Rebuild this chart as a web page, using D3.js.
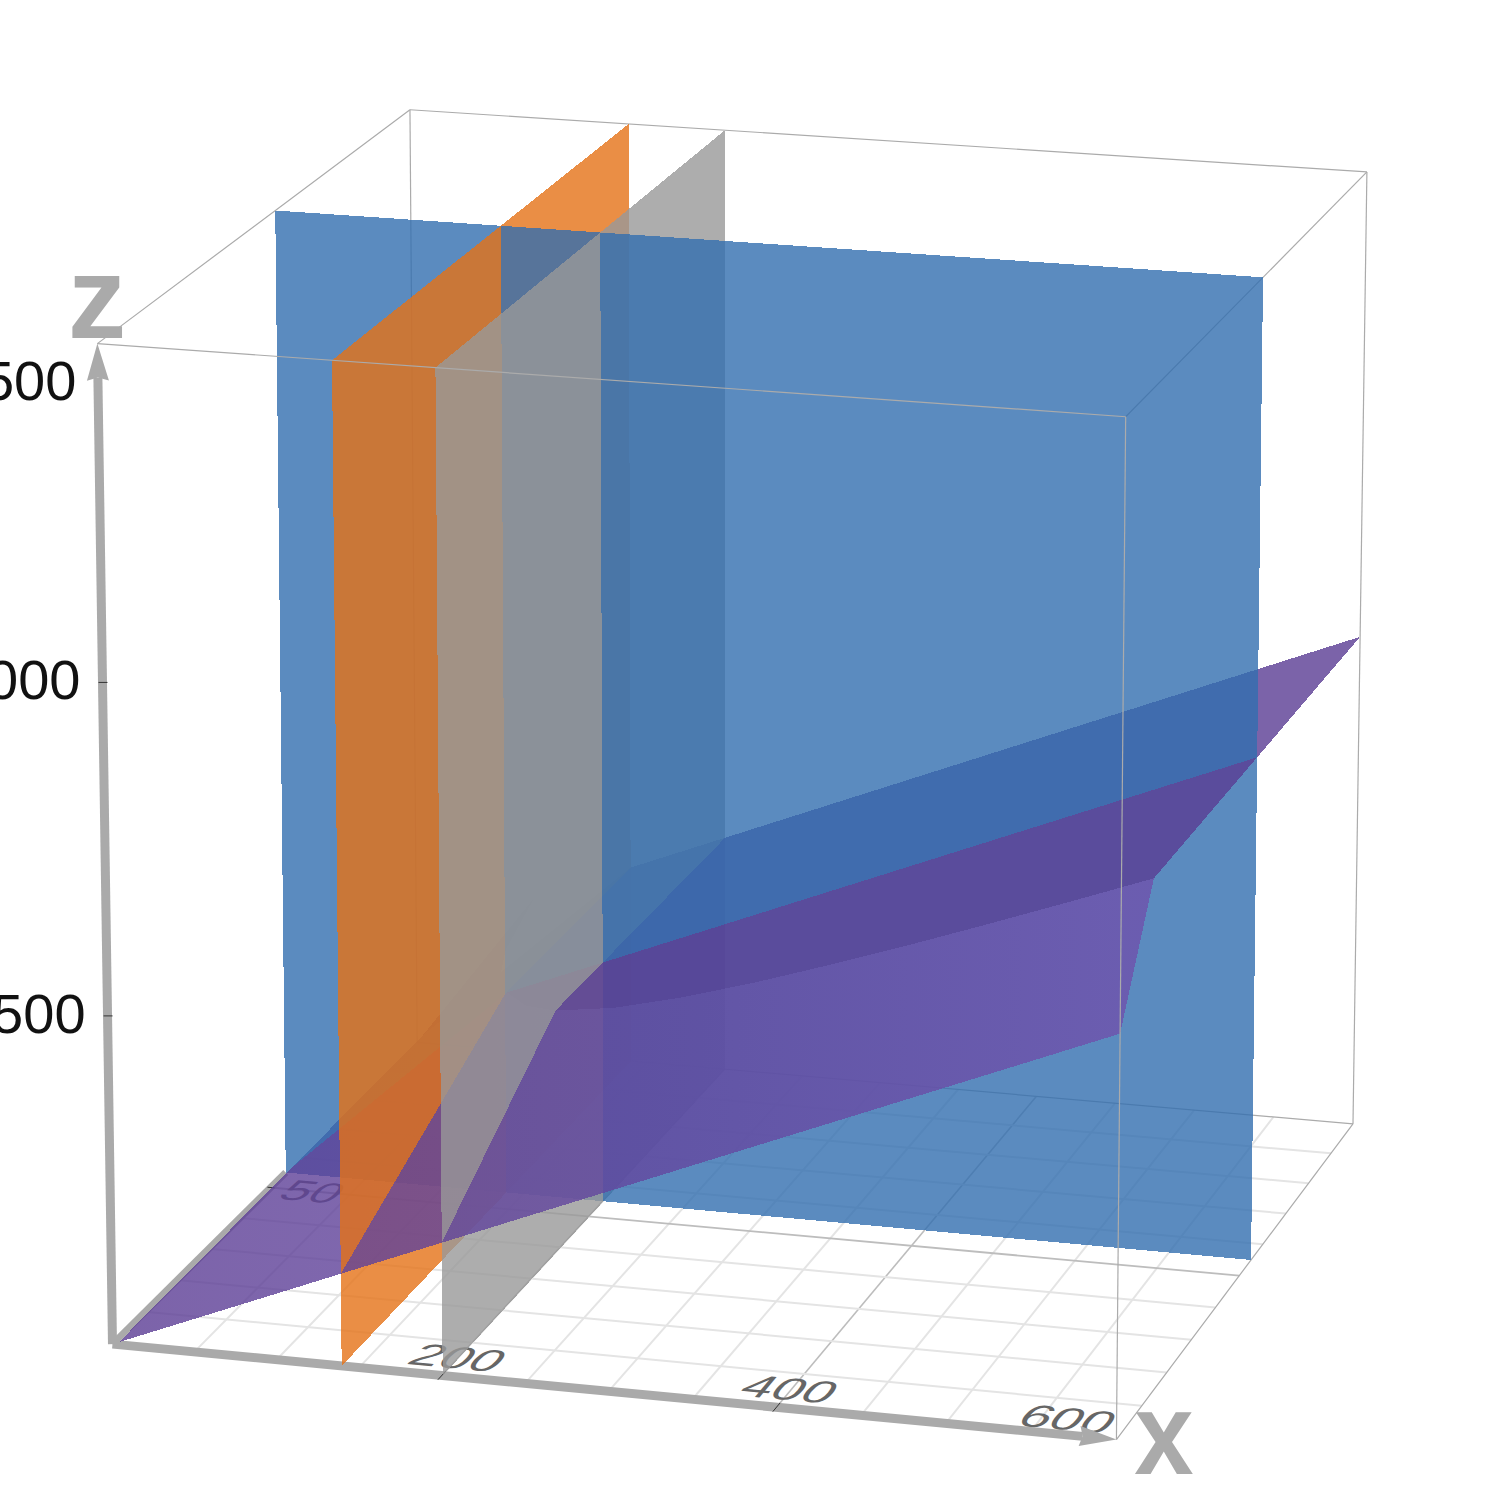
<!DOCTYPE html>
<html><head><meta charset="utf-8">
<script src="https://cdn.jsdelivr.net/npm/d3@7"></script>
<style>html,body{margin:0;background:#fff}svg{display:block}</style></head>
<body><svg id="c" width="1500" height="1500" viewBox="0 0 1500 1500"></svg>
<script>
// ---- data ----
const xDomain=[0,600], yDomain=[0,100], zDomain=[0,1500];
const xTicks=[200,400], xLabels=[200,400,600], yLabels=[50], zLabels=[500,1000,1500];
const xMinor=[50,100,150,200,250,300,350,400,450,500,550];
const yMinor=[10,20,30,40,50,60,70,80,90];
const xMajor=[200,400], yMajor=[50];
const planeOrangeX=139.5, planeGrayX=200.5, planeBlueY=55;
// surface: height along the front edge, and the crease (fold line) across the floor
const surfaceStartX=4;
const creaseX=[0,77,100,120,139.5,170,200.5,250,300,350,400,450,500,550,600];
const creaseY=[100,100,77,64,55.4,45.3,38.5,30.8,25.7,22,19.3,17.1,15.4,14,12.8];
const creaseZ=[0,253,276,296,315,346,376,426,476,526,576,626,676,726,776];
const frontEdgeX=[0,600], frontEdgeZ=[0,604];
// view: where the eight box corners appear
const corners=[[0,0,0,112,1346],[1,0,0,1116,1438],[0,0,1,98,344],[1,0,1,1126,416],
 [0,1,1,409,110],[1,1,1,1367,172],[1,1,0,1353,1126],[0,1,0,418,1040]];
// ---- style ----
const ORANGE="rgba(229,114,22,0.8)",GRAY="rgba(152,152,152,0.8)",BLUE="rgba(50,110,175,0.8)",PURPLE="rgba(90,60,147,0.8)";
const AX="#aaaaaa";

function solve(A,b){const n=b.length,M=A.map((r,i)=>[...r,b[i]]);
 for(let i=0;i<n;i++){let p=i;for(let k=i+1;k<n;k++)if(Math.abs(M[k][i])>Math.abs(M[p][i]))p=k;
  [M[i],M[p]]=[M[p],M[i]];
  for(let k=0;k<n;k++)if(k!==i){const f=M[k][i]/M[i][i];for(let j=i;j<=n;j++)M[k][j]-=f*M[i][j];}}
 return M.map((r,i)=>r[n]/r[i]);}
const rows=[],rhs=[];
corners.forEach(([X,Y,Z,u,v])=>{
 rows.push([X,Y,Z,1,0,0,0,0,-u*X,-u*Y,-u*Z]);rhs.push(u);
 rows.push([0,0,0,0,X,Y,Z,1,-v*X,-v*Y,-v*Z]);rhs.push(v);});
const ATA=d3.range(11).map(i=>d3.range(11).map(j=>d3.sum(rows,r=>r[i]*r[j])));
const ATb=d3.range(11).map(i=>d3.sum(rows,(r,k)=>r[i]*rhs[k]));
const P=solve(ATA,ATb);
const xS=d3.scaleLinear(xDomain,[0,1]),yS=d3.scaleLinear(yDomain,[0,1]),zS=d3.scaleLinear(zDomain,[0,1]);
function proj(x,y,z){const X=xS(x),Y=yS(y),Z=zS(z),w=P[8]*X+P[9]*Y+P[10]*Z+1;
 return [(P[0]*X+P[1]*Y+P[2]*Z+P[3])/w,(P[4]*X+P[5]*Y+P[6]*Z+P[7])/w];}

const svg=d3.select("#c"),line=d3.line();
const defs=svg.append("defs");
const grad=defs.append("linearGradient").attr("id","steep").attr("gradientUnits","userSpaceOnUse")
 .attr("x1",118).attr("y1",0).attr("x2",1120).attr("y2",0);
[[0,"rgb(91,60,148)"],[0.58,"rgb(100,72,160)"],[1,"rgb(111,81,172)"]].forEach(([o,c])=>
 grad.append("stop").attr("offset",o).attr("stop-color",c).attr("stop-opacity",0.8));

function seg(a,b,col,w){const p=[proj(...a),proj(...b)];
 svg.append("path").attr("d",line(p)).attr("fill","none").attr("stroke",col).attr("stroke-width",w);}
function poly(pts3,fill){svg.append("path").attr("d",line(pts3.map(p=>proj(...p)))+"Z")
 .attr("fill",fill).attr("shape-rendering","crispEdges");}

// floor grid
const [x0,x1]=xDomain,[y0,y1]=yDomain,[z0,z1]=zDomain;
xMinor.forEach(x=>{const m=xMajor.includes(x);seg([x,y0,z0],[x,y1,z0],m?"#bdbdbd":"#e4e4e4",m?1.6:2);});
yMinor.forEach(y=>{const m=yMajor.includes(y);seg([x0,y,z0],[x1,y,z0],m?"#bdbdbd":"#e4e4e4",m?1.8:2);});
// hidden box edges
const edge="#ababab";
[[[x0,y1,z0],[x0,y1,z1]],[[x1,y1,z0],[x1,y1,z1]],[[x0,y1,z1],[x1,y1,z1]],[[x0,y1,z0],[x1,y1,z0]],
 [[x0,y0,z1],[x0,y1,z1]],[[x1,y0,z1],[x1,y1,z1]],[[x1,y0,z0],[x1,y1,z0]]].forEach(([a,b])=>seg(a,b,edge,1.2));

// floor labels, lying on the floor plane
const emX=32,emY=9;
function floorText(t,x,y,fill){
 const p=proj(x,y,z0),a=proj(x+emX,y,z0),b=proj(x,y+emY,z0);
 svg.append("text").text(t).attr("text-anchor","middle").attr("y",36)
  .attr("font-family","Liberation Sans").attr("font-size",100).attr("fill",fill)
  .attr("transform",`matrix(${(a[0]-p[0])/100},${(a[1]-p[1])/100},${-(b[0]-p[0])/100},${-(b[1]-p[1])/100},${p[0]},${p[1]})`);
}
const xLabelShift={200:[0,5.5],400:[-1,5.5],600:[-35,4.5]};
xLabels.forEach(v=>floorText(v,v+xLabelShift[v][0],xLabelShift[v][1],"#666"));
yLabels.forEach(v=>floorText(v,27,v,"#666"));

// axes
function arrow(from,to,len,hw,notch){const a=proj(...from),b=proj(...to);
 const L=Math.hypot(b[0]-a[0],b[1]-a[1]),d=[(b[0]-a[0])/L,(b[1]-a[1])/L],n=[-d[1],d[0]];
 const base=[b[0]-d[0]*len,b[1]-d[1]*len],inn=[b[0]-d[0]*(len-notch),b[1]-d[1]*(len-notch)];
 svg.append("path").attr("d",line([a,inn])).attr("stroke",AX).attr("stroke-width",9).attr("fill","none");
 svg.append("path").attr("d",line([b,[base[0]+n[0]*hw,base[1]+n[1]*hw],inn,[base[0]-n[0]*hw,base[1]-n[1]*hw]])+"Z").attr("fill",AX);
}
arrow([x0,y0,z0],[x1,y0,z0],37,10,3);
arrow([x0,y0,z0],[x0,y0,z1],37,11,3);
seg([x0,y0,z0],[x0,planeBlueY,z0],AX,7);
// ticks
xTicks.forEach(x=>seg([x,-1.3,z0],[x,1.3,z0],"#333",1));
zLabels.slice(0,2).forEach(z=>{const p=proj(x0,y0,z);
 svg.append("path").attr("d",line([[p[0]-4,p[1]],[p[0]+5,p[1]]])).attr("stroke","#333").attr("stroke-width",1);});
yLabels.forEach(y=>seg([-2,y,z0],[2.5,y,z0],"#333",1));

// surface lookups
const kY=d3.scaleLinear(creaseX,creaseY),kZ=d3.scaleLinear(creaseX,creaseZ),fZ=d3.scaleLinear(frontEdgeX,frontEdgeZ);
const steepZ=(x,y)=>fZ(x)+(kZ(x)-fZ(x))*y/kY(x);
const crease2=creaseX.map((x,i)=>[x,creaseY[i]]);
const steepRegion=[[x0,y0],[x1,y0],...crease2.slice().reverse()];
const flatRegion=[...crease2,[x1,y1]];
function clip(pg,axis,val,keepAbove){const out=[];
 for(let i=0;i<pg.length;i++){const a=pg[i],b=pg[(i+1)%pg.length];
  const ia=keepAbove?a[axis]>=val-1e-9:a[axis]<=val+1e-9,ib=keepAbove?b[axis]>=val-1e-9:b[axis]<=val+1e-9;
  if(ia)out.push(a);
  if(ia!==ib){const t=(val-a[axis])/(b[axis]-a[axis]);out.push([a[0]+t*(b[0]-a[0]),a[1]+t*(b[1]-a[1])]);}}
 return out;}
function cell(xa,xb,ya,yb){
 const c=pg=>{let r=clip(pg,0,xa,true);r=r.length?clip(r,0,xb,false):r;r=r.length?clip(r,1,ya,true):r;r=r.length?clip(r,1,yb,false):r;return r;};
 const s=c(steepRegion),f=c(flatRegion);
 if(f.length>2)poly(f.map(([x,y])=>[x,y,kZ(x)]),PURPLE);
 if(s.length>2)poly(s.map(([x,y])=>[x,y,steepZ(x,y)]),"url(#steep)");
}
function plane(x,ya,yb,fill){poly([[x,ya,z0],[x,yb,z0],[x,yb,z1],[x,ya,z1]],fill);}
function chunk(ya,yb){
 cell(surfaceStartX,planeOrangeX,ya,yb);plane(planeOrangeX,ya,yb,ORANGE);
 cell(planeOrangeX,planeGrayX,ya,yb);plane(planeGrayX,ya,yb,GRAY);
 cell(planeGrayX,x1,ya,yb);
}
chunk(planeBlueY,y1);
poly([[x0,planeBlueY,z0],[x1,planeBlueY,z0],[x1,planeBlueY,z1],[x0,planeBlueY,z1]],BLUE);
chunk(y0,planeBlueY);

// front box edges
seg([x0,y0,z1],[x1,y0,z1],edge,1.2);
seg([x1,y0,z0],[x1,y0,z1],edge,1.2);

// z labels, big and partly cut by the page edge
zLabels.forEach((z,i)=>{const p=proj(x0,y0,z);const top=i===zLabels.length-1;
 svg.append("text").text(z).attr("x",p[0]-(top?21:22)).attr("y",p[1]+(top?56:17))
  .attr("text-anchor","end").attr("font-family","Liberation Sans").attr("font-size",56).attr("fill","#111");});
// axis names
svg.append("text").text("z").attr("x",97).attr("y",338).attr("text-anchor","middle")
 .attr("font-family","Liberation Sans").attr("font-weight","bold").attr("font-size",117).attr("fill",AX);
svg.append("text").text("x").attr("transform","translate(1164,1474) scale(0.92,1)").attr("text-anchor","middle")
 .attr("font-family","Liberation Sans").attr("font-weight","bold").attr("font-size",116).attr("fill",AX);
</script></body></html>
